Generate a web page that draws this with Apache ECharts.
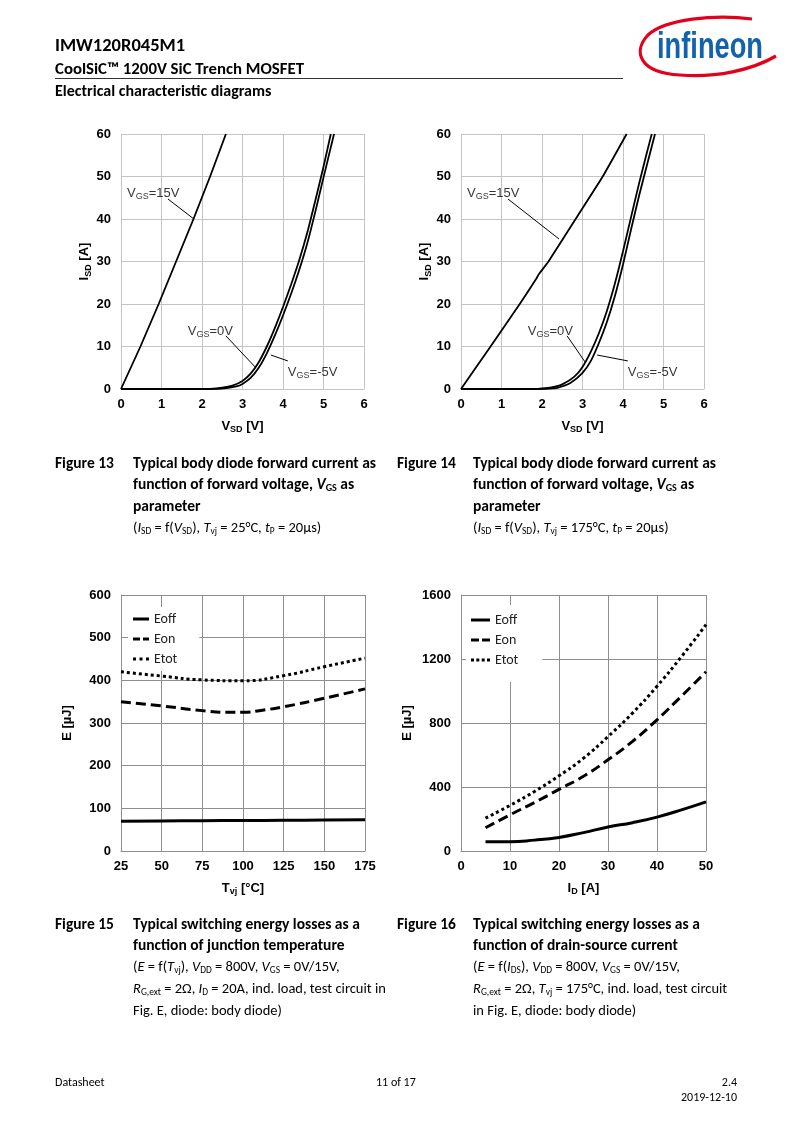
<!DOCTYPE html>
<html>
<head>
<meta charset="utf-8">
<script src="https://cdn.jsdelivr.net/npm/echarts@6/dist/echarts.min.js"></script>
<style>
  html,body{margin:0;padding:0;background:#fff;}
  #page{position:relative;width:793px;height:1122px;overflow:hidden;background:#fff;}
  #c{position:absolute;left:0;top:0;width:793px;height:1122px;}
  .t{position:absolute;white-space:nowrap;line-height:20px;color:#000;z-index:2;
     font-family:Carlito,'Liberation Sans Narrow','Arial Narrow','Noto Sans',sans-serif;}
  .b{font-weight:bold;}
  .t sub{font-size:65%;vertical-align:-2px;line-height:0;}
  .cap{font-size:15.5px;font-weight:bold;}
  .par{font-size:14.5px;}
  .ft{font-size:12px;}
</style>
</head>
<body>
<div id="page">
  <div id="c"></div>

  <div class="t b" style="left:55px;top:35px;font-size:18.5px;">IMW120R045M1</div>
  <div class="t b" style="left:55px;top:59px;font-size:16.8px;">CoolSiC™ 1200V SiC Trench MOSFET</div>
  <div style="position:absolute;left:55px;top:78px;width:568px;height:1px;background:#333;"></div>
  <div class="t b" style="left:55px;top:81px;font-size:16px;">Electrical characteristic diagrams</div>

  <svg style="position:absolute;left:620px;top:10px;z-index:2" width="170" height="75" viewBox="620 10 170 75">
    <path d="M752,19 C715,14 665,19 648,35 C632,52 640,73 680,75 C716,78 752,70 776,56" fill="none" stroke="#e2001a" stroke-width="3.2"/>
    <text x="657" y="58" font-family="'Liberation Sans Narrow','Arial Narrow','Liberation Sans',sans-serif" font-weight="bold" font-size="37" fill="#1263ab" textLength="106" lengthAdjust="spacingAndGlyphs">infineon</text>
  </svg>

  <!-- Captions row 1 -->
  <div class="t cap" style="left:55px;top:453px;">Figure 13</div>
  <div class="t cap" style="left:133px;top:453px;">Typical body diode forward current as</div>
  <div class="t cap" style="left:133px;top:474px;">function of forward voltage, <i>V</i><sub>GS</sub> as</div>
  <div class="t cap" style="left:133px;top:496px;">parameter</div>
  <div class="t par" style="left:133px;top:517px;">(<i>I</i><sub>SD</sub> = f(<i>V</i><sub>SD</sub>), <i>T</i><sub>vj</sub> = 25°C, <i>t</i><sub>P</sub> = 20µs)</div>

  <div class="t cap" style="left:397px;top:453px;">Figure 14</div>
  <div class="t cap" style="left:473px;top:453px;">Typical body diode forward current as</div>
  <div class="t cap" style="left:473px;top:474px;">function of forward voltage, <i>V</i><sub>GS</sub> as</div>
  <div class="t cap" style="left:473px;top:496px;">parameter</div>
  <div class="t par" style="left:473px;top:517px;">(<i>I</i><sub>SD</sub> = f(<i>V</i><sub>SD</sub>), <i>T</i><sub>vj</sub> = 175°C, <i>t</i><sub>P</sub> = 20µs)</div>

  <!-- Captions row 2 -->
  <div class="t cap" style="left:55px;top:914px;">Figure 15</div>
  <div class="t cap" style="left:133px;top:914px;">Typical switching energy losses as a</div>
  <div class="t cap" style="left:133px;top:935px;">function of junction temperature</div>
  <div class="t par" style="left:133px;top:956px;">(<i>E</i> = f(<i>T</i><sub>vj</sub>), <i>V</i><sub>DD</sub> = 800V, <i>V</i><sub>GS</sub> = 0V/15V,</div>
  <div class="t par" style="left:133px;top:978px;"><i>R</i><sub>G,ext</sub> = 2Ω, <i>I</i><sub>D</sub> = 20A, ind. load, test circuit in</div>
  <div class="t par" style="left:133px;top:1000px;">Fig. E, diode: body diode)</div>

  <div class="t cap" style="left:397px;top:914px;">Figure 16</div>
  <div class="t cap" style="left:473px;top:914px;">Typical switching energy losses as a</div>
  <div class="t cap" style="left:473px;top:935px;">function of drain-source current</div>
  <div class="t par" style="left:473px;top:956px;">(<i>E</i> = f(<i>I</i><sub>DS</sub>), <i>V</i><sub>DD</sub> = 800V, <i>V</i><sub>GS</sub> = 0V/15V,</div>
  <div class="t par" style="left:473px;top:978px;"><i>R</i><sub>G,ext</sub> = 2Ω, <i>T</i><sub>vj</sub> = 175°C, ind. load, test circuit</div>
  <div class="t par" style="left:473px;top:1000px;">in Fig. E, diode: body diode)</div>

  <!-- Footer -->
  <div class="t ft" style="left:55px;top:1072px;">Datasheet</div>
  <div class="t ft" style="left:376px;top:1072px;">11 of 17</div>
  <div class="t ft" style="right:56px;top:1072px;text-align:right;">2.4</div>
  <div class="t ft" style="right:56px;top:1087px;text-align:right;">2019-12-10</div>
</div>

<script>
// ---------- Data ----------
// Figure 13: Tvj = 25 °C, [VSD (V), ISD (A)]
const fig13_vgs15 = [[0,0],[0.48,10],[0.93,20],[1.36,30],[1.79,40],[2.2,50],[2.59,60]];
const fig13_vgs0  = [[0,0],[1.5,0],[2.2,0.05],[2.5,0.3],[2.75,0.8],[3.0,1.9],[3.2,3.6],[3.4,6.3],[3.6,10.0],[3.8,14.4],[4.0,19.3],[4.2,24.6],[4.4,30.3],[4.6,36.8],[4.8,44.4],[5.0,52.3],[5.18,60]];
const fig13_vgsm5 = [[0,0],[1.5,0],[2.4,0.02],[2.6,0.2],[2.85,0.6],[3.0,1.2],[3.2,2.6],[3.4,5.0],[3.6,8.4],[3.8,12.6],[4.0,17.3],[4.2,22.4],[4.4,28],[4.6,34.3],[4.8,41.8],[5.0,49.8],[5.26,60]];
// Figure 14: Tvj = 175 °C
const fig14_vgs15 = [[0,0],[0.73,10],[1.45,20],[1.85,25.8],[1.92,27],[2.16,30],[2.83,40],[3.5,50],[4.09,60]];
const fig14_vgs0  = [[0,0],[1.5,0],[1.9,0.05],[2.2,0.3],[2.5,1.1],[2.8,2.9],[3.0,5.2],[3.2,8.7],[3.4,13],[3.6,18.3],[3.8,24.8],[4.0,32.4],[4.2,40.5],[4.4,48.5],[4.6,56],[4.71,60]];
const fig14_vgsm5 = [[0,0],[1.6,0],[2.1,0.05],[2.4,0.35],[2.7,1.4],[3.0,3.8],[3.2,6.5],[3.4,10.7],[3.6,15.7],[3.8,21.9],[4.0,29.3],[4.2,37.6],[4.4,45.6],[4.6,53],[4.79,60]];
// Figure 15: [Tvj (°C), E (µJ)]
const fig15_eoff = [[25,70],[50,70.5],[75,71],[100,71.5],[125,72],[150,72.5],[175,73]];
const fig15_eon  = [[25,350],[50,340],[75,329],[90,325],[100,325],[112,330],[125,338],[150,358],[175,380]];
const fig15_etot = [[25,420],[50,410],[75,401],[100,399],[125,411],[150,432],[175,452]];
// Figure 16: ID (A) and E (µJ)
const fig16_id   = [5,10,15,20,25,30,35,40,45,50];
const fig16_eoff = [58,58,68,85,115,150,177,212,257,307];
const fig16_eon  = [145,226,303,385,467,570,685,820,968,1120];
const fig16_etot = [205,285,372,470,580,715,862,1030,1215,1415];
// Legend / label texts
const legendNames = ['Eoff','Eon','Etot'];
const curveLabels = ['{n|V}{s|GS}{n|=15V}','{n|V}{s|GS}{n|=0V}','{n|V}{s|GS}{n|=-5V}'];

// ---------- Annotation anchors (data units) ----------
const annot13 = {
  text:[[0.15,46],[1.65,13.6],[4.12,4]],
  leaders:[[[1.16,44.7],[1.80,40]],[[2.59,12.5],[3.31,5.2]],[[3.70,8],[4.12,6.6]]]
};
const annot14 = {
  text:[[0.15,46],[1.65,13.6],[4.12,4]],
  leaders:[[[1.16,44.7],[2.42,35.3]],[[2.62,12.5],[3.06,6.4]],[[3.36,8],[4.12,6.6]]]
};

const FONT = 'Liberation Sans, Arial, sans-serif';
const LEG_FONT = 'Carlito, Liberation Sans Narrow, Noto Sans, sans-serif';
const richAxis = {
  b:{fontFamily:FONT,fontSize:13,fontWeight:'bold',color:'#000',lineHeight:16},
  s:{fontFamily:FONT,fontSize:9,fontWeight:'bold',color:'#000',lineHeight:10,verticalAlign:'bottom'}
};
const richLbl = {
  n:{fontFamily:FONT,fontSize:13,color:'#000',lineHeight:16},
  s:{fontFamily:FONT,fontSize:9,color:'#000',lineHeight:10,verticalAlign:'bottom'}
};

function xAx(gi,min,max,interval,name,color){
  return {type:'value',gridIndex:gi,min,max,interval,name,nameLocation:'middle',nameGap:29,
    nameTextStyle:{rich:richAxis},
    axisLine:{show:true,onZero:false,lineStyle:{color,width:1}},
    axisTick:{show:false},
    axisLabel:{color:'#000',fontWeight:'bold',fontSize:13,fontFamily:FONT,margin:9,formatter:v=>String(v)},
    splitLine:{show:true,showMinLine:true,showMaxLine:true,lineStyle:{color,width:1}}};
}
function yAx(gi,min,max,interval,name,color,gap){
  return {type:'value',gridIndex:gi,min,max,interval,name,nameLocation:'middle',nameGap:gap,nameRotate:90,
    nameTextStyle:{rich:richAxis},
    axisLine:{show:true,onZero:false,lineStyle:{color,width:1}},
    axisTick:{show:false},
    axisLabel:{color:'#000',fontWeight:'bold',fontSize:13,fontFamily:FONT,margin:10,formatter:v=>String(v)},
    splitLine:{show:true,showMinLine:true,showMaxLine:true,lineStyle:{color,width:1}}};
}

function diodeSeries(gi,data,smooth){
  return {type:'line',xAxisIndex:gi,yAxisIndex:gi,data,symbol:'none',smooth:smooth,
    lineStyle:{color:'#000',width:1.8},silent:true,z:3};
}
function annotSeries(gi,ann){
  return {type:'scatter',xAxisIndex:gi,yAxisIndex:gi,symbolSize:0,silent:true,z:5,
    data:ann.text.map((p,i)=>({value:p,label:{show:true,position:'right',distance:0,color:'#000',formatter:curveLabels[i],rich:richLbl}})),
    markLine:{silent:true,symbol:['none','none'],label:{show:false},animation:false,
      lineStyle:{color:'#000',width:1,type:'solid'},
      data:ann.leaders.map(l=>[{coord:l[0]},{coord:l[1]}])}};
}
const styles = {
  Eoff:{color:'#000',width:3,type:'solid'},
  Eon:{color:'#000',width:3,type:[10,5]},
  Etot:{color:'#000',width:3,type:[3,3]}
};
function eSeries(gi,name,data){
  return {type:'line',name,xAxisIndex:gi,yAxisIndex:gi,data,symbol:'none',smooth:true,
    itemStyle:{color:'#000'},lineStyle:styles[name],silent:true,z:3};
}
// legend sample icons (solid / dashed / dotted strokes)
const icons15 = {
  Eoff:'path://M0,0H16V3H0Z',
  Eon:'path://M0,0H7V3H0Z M10,0H16V3H10Z',
  Etot:'path://M0,0H3V3H0Z M6.5,0H9.5V3H6.5Z M13,0H16V3H13Z'
};
const icons16 = {
  Eoff:'path://M0,0H19V3H0Z',
  Eon:'path://M0,0H8V3H0Z M11,0H19V3H11Z',
  Etot:'path://M0,0H3V3H0Z M5.3,0H8.3V3H5.3Z M10.7,0H13.7V3H10.7Z M16,0H19V3H16Z'
};
function legendData(ic){ return legendNames.map(n=>({name:n,icon:ic[n],itemStyle:{color:'#000'}})); }

const GL = '#c4c4c4', GD = '#8e8e8e';
const option = {
  animation:false,
  grid:[
    {left:121,top:134,width:243,height:255},
    {left:461,top:134,width:243,height:255},
    {left:121,top:595,width:244,height:256},
    {left:461,top:595,width:245,height:256}
  ],
  xAxis:[
    xAx(0,0,6,1,'{b|V}{s|SD}{b| [V]}',GL),
    xAx(1,0,6,1,'{b|V}{s|SD}{b| [V]}',GL),
    xAx(2,25,175,25,'{b|T}{s|vj}{b| [°C]}',GD),
    xAx(3,0,50,10,'{b|I}{s|D}{b| [A]}',GD)
  ],
  yAxis:[
    yAx(0,0,60,10,'{b|I}{s|SD}{b| [A]}',GL,28),
    yAx(1,0,60,10,'{b|I}{s|SD}{b| [A]}',GL,28),
    yAx(2,0,600,100,'{b|E [µJ]}',GD,46),
    yAx(3,0,1600,400,'{b|E [µJ]}',GD,46)
  ],
  legend:[
    {data:legendData(icons15),orient:'vertical',left:128,top:607,padding:[5,22,5,5],itemGap:6,itemWidth:16,itemHeight:3,
     symbolKeepAspect:false,backgroundColor:'#fff',selectedMode:false,textStyle:{fontFamily:LEG_FONT,fontSize:14,color:'#222',lineHeight:14},z:4},
    {data:legendData(icons16),orient:'vertical',left:466,top:605,padding:[8,24,15,5],itemGap:6,itemWidth:19,itemHeight:3,
     symbolKeepAspect:false,backgroundColor:'#fff',selectedMode:false,textStyle:{fontFamily:LEG_FONT,fontSize:14,color:'#222',lineHeight:14},z:4}
  ],
  series:[
    diodeSeries(0,fig13_vgs15,false),diodeSeries(0,fig13_vgs0,0.2),diodeSeries(0,fig13_vgsm5,0.2),annotSeries(0,annot13),
    diodeSeries(1,fig14_vgs15,0.1),diodeSeries(1,fig14_vgs0,0.2),diodeSeries(1,fig14_vgsm5,0.2),annotSeries(1,annot14),
    eSeries(2,'Eoff',fig15_eoff),eSeries(2,'Eon',fig15_eon),eSeries(2,'Etot',fig15_etot),
    eSeries(3,'Eoff',fig16_id.map((x,i)=>[x,fig16_eoff[i]])),
    eSeries(3,'Eon',fig16_id.map((x,i)=>[x,fig16_eon[i]])),
    eSeries(3,'Etot',fig16_id.map((x,i)=>[x,fig16_etot[i]]))
  ]
};
const chart = echarts.init(document.getElementById('c'));
chart.setOption(option);
</script>
</body>
</html>
